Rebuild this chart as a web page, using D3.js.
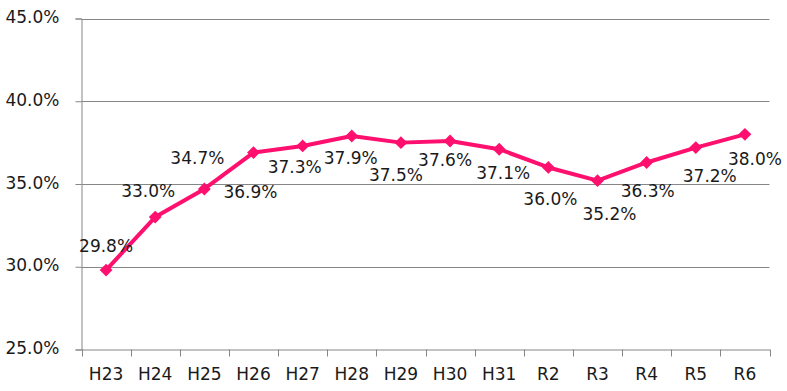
<!DOCTYPE html>
<html><head><meta charset="utf-8">
<script src="https://cdn.jsdelivr.net/npm/d3@7"></script>
<style>
html,body{margin:0;padding:0;background:#fff;}
</style></head>
<body><svg id="chart" width="787" height="391"></svg>
<script>
const categories = ["H23","H24","H25","H26","H27","H28","H29","H30","H31","R2","R3","R4","R5","R6"];
const values = [29.8,33.0,34.7,36.9,37.3,37.9,37.5,37.6,37.1,36.0,35.2,36.3,37.2,38.0];
const yTicks = [25,30,35,40,45];
// label placement offsets (px) relative to each point, as in the original
const labelDx = [0,-7,-7,-3,-8,-1,-5,-5,4,2,12,1,14,10];
const labelDy = [-24,-26,-31,39,21,22,32,19,24,31,33,28,28,25];

const FONT = "'DejaVu Sans', Verdana, sans-serif";
const svg = d3.select("#chart");
const m = {left:81.5, right:769.5, top:18.5, bottom:349.5};
const x = d3.scaleBand().domain(categories).range([m.left, m.right]);
const y = d3.scaleLinear().domain([25,45]).range([m.bottom, m.top]);
const gray = "#868686";
const pink = "#FF0F6E";
const fs = 17;

// gridlines
svg.append("g").selectAll("line").data(yTicks.filter(t=>t>25)).join("line")
  .attr("x1", m.left).attr("x2", m.right)
  .attr("y1", d=>Math.round(y(d))+0.5).attr("y2", d=>Math.round(y(d))+0.5)
  .attr("stroke", gray).attr("stroke-width",1);

// y axis
const yAxis = d3.axisLeft(y).tickValues(yTicks).tickFormat(d=>d.toFixed(1)+"%").tickSize(6).tickPadding(16);
const gy = svg.append("g").attr("transform",`translate(${m.left},0)`).call(yAxis)
  .attr("font-family", FONT).attr("font-size", fs);
gy.select(".domain").attr("stroke",gray);
gy.selectAll(".tick line").attr("stroke",gray);
gy.selectAll(".tick text").attr("fill","#1a1a1a").attr("dy","0.24em");

// x axis
const xAxis = d3.axisBottom(x).tickSize(0).tickPadding(18);
const gx = svg.append("g").attr("transform",`translate(0,${m.bottom})`).call(xAxis)
  .attr("font-family", FONT).attr("font-size", fs);
gx.select(".domain").attr("stroke",gray);
gx.selectAll(".tick text").attr("fill","#1a1a1a");
// category boundary ticks
const bounds = categories.map(c=>x(c)).concat([x(categories[categories.length-1])+x.bandwidth()]);
gx.append("g").selectAll("line").data(bounds).join("line")
  .attr("x1",d=>Math.round(d)+0.5).attr("x2",d=>Math.round(d)+0.5)
  .attr("y1",0).attr("y2",7).attr("stroke",gray);

const pts = categories.map((c,i)=>({c, v:values[i], x:x(c)+x.bandwidth()/2, y:y(values[i]), i}));

// line
svg.append("path").datum(pts)
  .attr("d", d3.line().x(d=>d.x).y(d=>d.y))
  .attr("fill","none").attr("stroke",pink).attr("stroke-width",4).attr("stroke-linejoin","round");

// markers (diamonds)
svg.append("g").selectAll("path").data(pts).join("path")
  .attr("transform",d=>`translate(${d.x},${d.y})`)
  .attr("d", d3.symbol().type(d3.symbolDiamond2).size(105))
  .attr("fill",pink);

// data labels
svg.append("g").attr("font-family", FONT).attr("font-size", fs)
  .selectAll("text").data(pts).join("text")
  .attr("x",d=>d.x+labelDx[d.i]).attr("y",d=>d.y+labelDy[d.i])
  .attr("text-anchor","middle").attr("dy","0.36em").attr("fill","#1a1a1a")
  .text(d=>d.v.toFixed(1)+"%");
</script></body></html>
